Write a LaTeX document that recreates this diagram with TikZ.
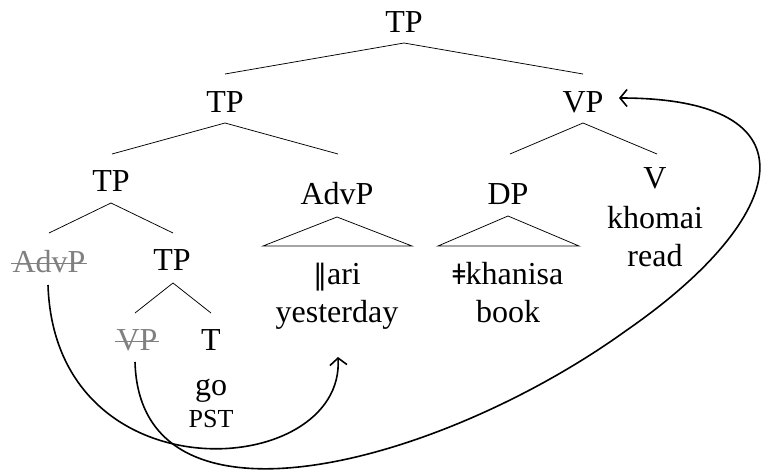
\documentclass[tikz,border=0pt]{standalone}
\usepackage{fontspec}
\setmainfont{Liberation Serif}
\newfontfamily\djv{DejaVu Serif}
\usetikzlibrary{arrows.meta}
\begin{document}
\begin{tikzpicture}[x=1pt,y=-1pt,
  lbl/.style={anchor=base,inner sep=0pt,font=\fontsize{32}{38}\selectfont},
  ghost/.style={lbl,text=gray},
  smallc/.style={anchor=base,inner sep=0pt,font=\fontsize{26}{30}\selectfont},
  branch/.style={line width=0.75pt},
  strike/.style={gray,line width=0.9pt},
  mover/.style={line width=1.6pt,-{Straight Barb[length=7pt,width=17pt]}}]
\useasboundingbox (0,0) rectangle (764,471);
% labels
\node[lbl] (root) at (404,32) {TP};
\node[lbl] (tp1) at (225,112) {TP};
\node[lbl] (vp) at (583,112) {VP};
\node[lbl] (tp2) at (111,191) {TP};
\node[lbl] (advp) at (337,204) {AdvP};
\node[lbl] (dp) at (508,204) {DP};
\node[lbl] (v) at (655,188) {V};
\node[lbl] (khomai) at (655,228) {khomai};
\node[lbl] (read) at (655,266) {read};
\node[ghost] (advg) at (49,272) {AdvP};
\node[lbl] (tp3) at (172,270) {TP};
\node[lbl] (ari) at (337,284) {{\djv\fontsize{28}{34}\selectfont ‖}ari};
\node[lbl] (yest) at (337,322) {yesterday};
\node[lbl] (khan) at (508,284) {{\djv\fontsize{28}{34}\selectfont ǂ}khanisa};
\node[lbl] (book) at (508,322) {book};
\node[ghost] (vpg) at (137,350) {VP};
\node[lbl] (t) at (211,350) {T};
\node[lbl] (go) at (211,395) {go};
\node[smallc] (pst) at (211,427) {PST};
% strike-through lines
\draw[strike] ([xshift=-1pt,yshift=9pt]advg.base west) -- ([xshift=1pt,yshift=9pt]advg.base east);
\draw[strike] ([xshift=-1pt,yshift=9pt]vpg.base west) -- ([xshift=1pt,yshift=9pt]vpg.base east);
% branch points
\coordinate (rootA) at (404,43);
\coordinate (rootL) at (225,74);
\coordinate (rootR) at (583,74);
\coordinate (tp1A) at (225,123);
\coordinate (tp1L) at (112,154);
\coordinate (tp1R) at (338,154);
\coordinate (vpA) at (583,123);
\coordinate (vpL) at (510,154);
\coordinate (vpR) at (657,154);
\coordinate (tp2A) at (111,203);
\coordinate (tp2L) at (49,233);
\coordinate (tp2R) at (173,233);
\coordinate (advA) at (337,217);
\coordinate (advL) at (263,246);
\coordinate (advR) at (412,246);
\coordinate (dpA) at (508,216);
\coordinate (dpL) at (438,246);
\coordinate (dpR) at (579,246);
\coordinate (tp3A) at (173,283);
\coordinate (tp3L) at (135,313);
\coordinate (tp3R) at (211,313);
% branches
\draw[branch] (rootL) -- (rootA) -- (rootR);
\draw[branch] (tp1L) -- (tp1A) -- (tp1R);
\draw[branch] (vpL) -- (vpA) -- (vpR);
\draw[branch] (tp2L) -- (tp2A) -- (tp2R);
\draw[branch] (advL) -- (advA) -- (advR) -- cycle;
\draw[branch] (dpL) -- (dpA) -- (dpR) -- cycle;
\draw[branch] (tp3L) -- (tp3A) -- (tp3R);
% movement arrows
\coordinate (m1s) at (48,285);
\coordinate (m1e) at (338,357);
\coordinate (m2s) at (135,362);
\coordinate (m2m) at (627,330);
\coordinate (m2e) at (619,98);
\draw[mover] (m1s) .. controls (55,500) and (345,480) .. (m1e);
\draw[mover] (m2s) .. controls (140,545) and (440,465) .. (m2m)
  .. controls (790,217) and (820,98) .. (m2e);
\end{tikzpicture}
\end{document}
